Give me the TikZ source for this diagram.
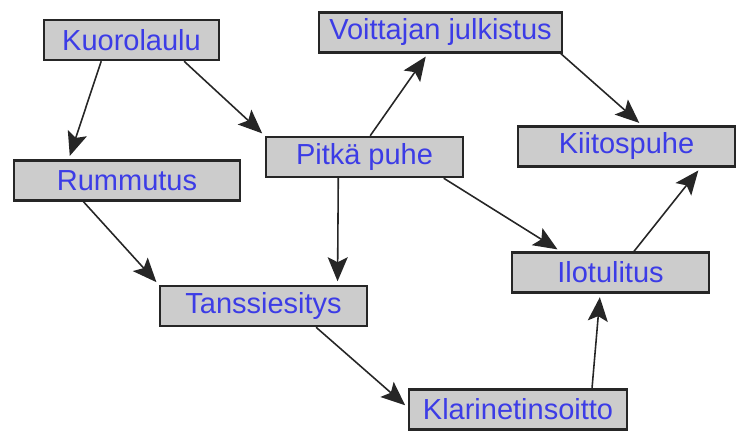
\documentclass[tikz,border=0pt]{standalone}
\usepackage{fontspec}
\setmainfont{Liberation Sans}
\usetikzlibrary{arrows.meta}

\definecolor{boxfill}{gray}{0.8}
\definecolor{boxtext}{RGB}{60,60,230}

\begin{document}
\begin{tikzpicture}[x=0.02cm, y=-0.02cm, >={Stealth[length=4.8mm, width=4mm, inset=1mm]}]
    \tikzset{
        n/.style        =   { rectangle
                            , draw=black!85
                            , line width=1.4pt
                            , fill=boxfill
                            , text=boxtext
                            , font=\fontsize{16.5}{19}\selectfont
                            , minimum height=0.8cm
                            , inner sep=0pt
        }
        , arrow/.style  =   { line width=0.9pt
                            , draw=black!85
                            , shorten >= 2pt
        }
    }
    \useasboundingbox (0,0) rectangle (738,431);

    \node(kuoro)  [n, minimum width=3.5cm]  at (131.5,40)  {Kuorolaulu};
    \node(voitto) [n, minimum width=4.86cm] at (440.5,32.5) {Voittajan julkistus};
    \node(rumpu)  [n, minimum width=4.52cm] at (127,180.5) {Rummutus};
    \node(puhe)   [n, minimum width=3.94cm] at (364.5,157) {Pitkä puhe};
    \node(kiitos) [n, minimum width=4.34cm] at (626.5,146.5) {Kiitospuhe};
    \node(tanssi) [n, minimum width=4.14cm] at (263.5,306) {Tanssiesitys};
    \node(ilo)    [n, minimum width=3.94cm] at (610.5,272.5) {Ilotulitus};
    \node(klari)  [n, minimum width=4.36cm] at (518,409.5) {Klarinetinsoitto};

    \draw[arrow,->] (kuoro.215)  -- (rumpu.160);
    \draw[arrow,->] (kuoro.338)  -- (puhe.north west);
    \draw[arrow,->] (rumpu.206)  -- (tanssi.north west);
    \draw[arrow,->] (puhe.219)   -- (tanssi.16);
    \draw[arrow,->] (puhe.75)    -- (voitto.239);
    \draw[arrow,->] (voitto.350) -- (kiitos.54);
    \draw[arrow,->] (puhe.345)   -- (ilo.157);
    \draw[arrow,->] (ilo.42)     -- (kiitos.344);
    \draw[arrow,->] (tanssi.338) -- (klari.179);
    \draw[arrow,->] (klari.16)   -- (ilo.244);
\end{tikzpicture}
\end{document}
